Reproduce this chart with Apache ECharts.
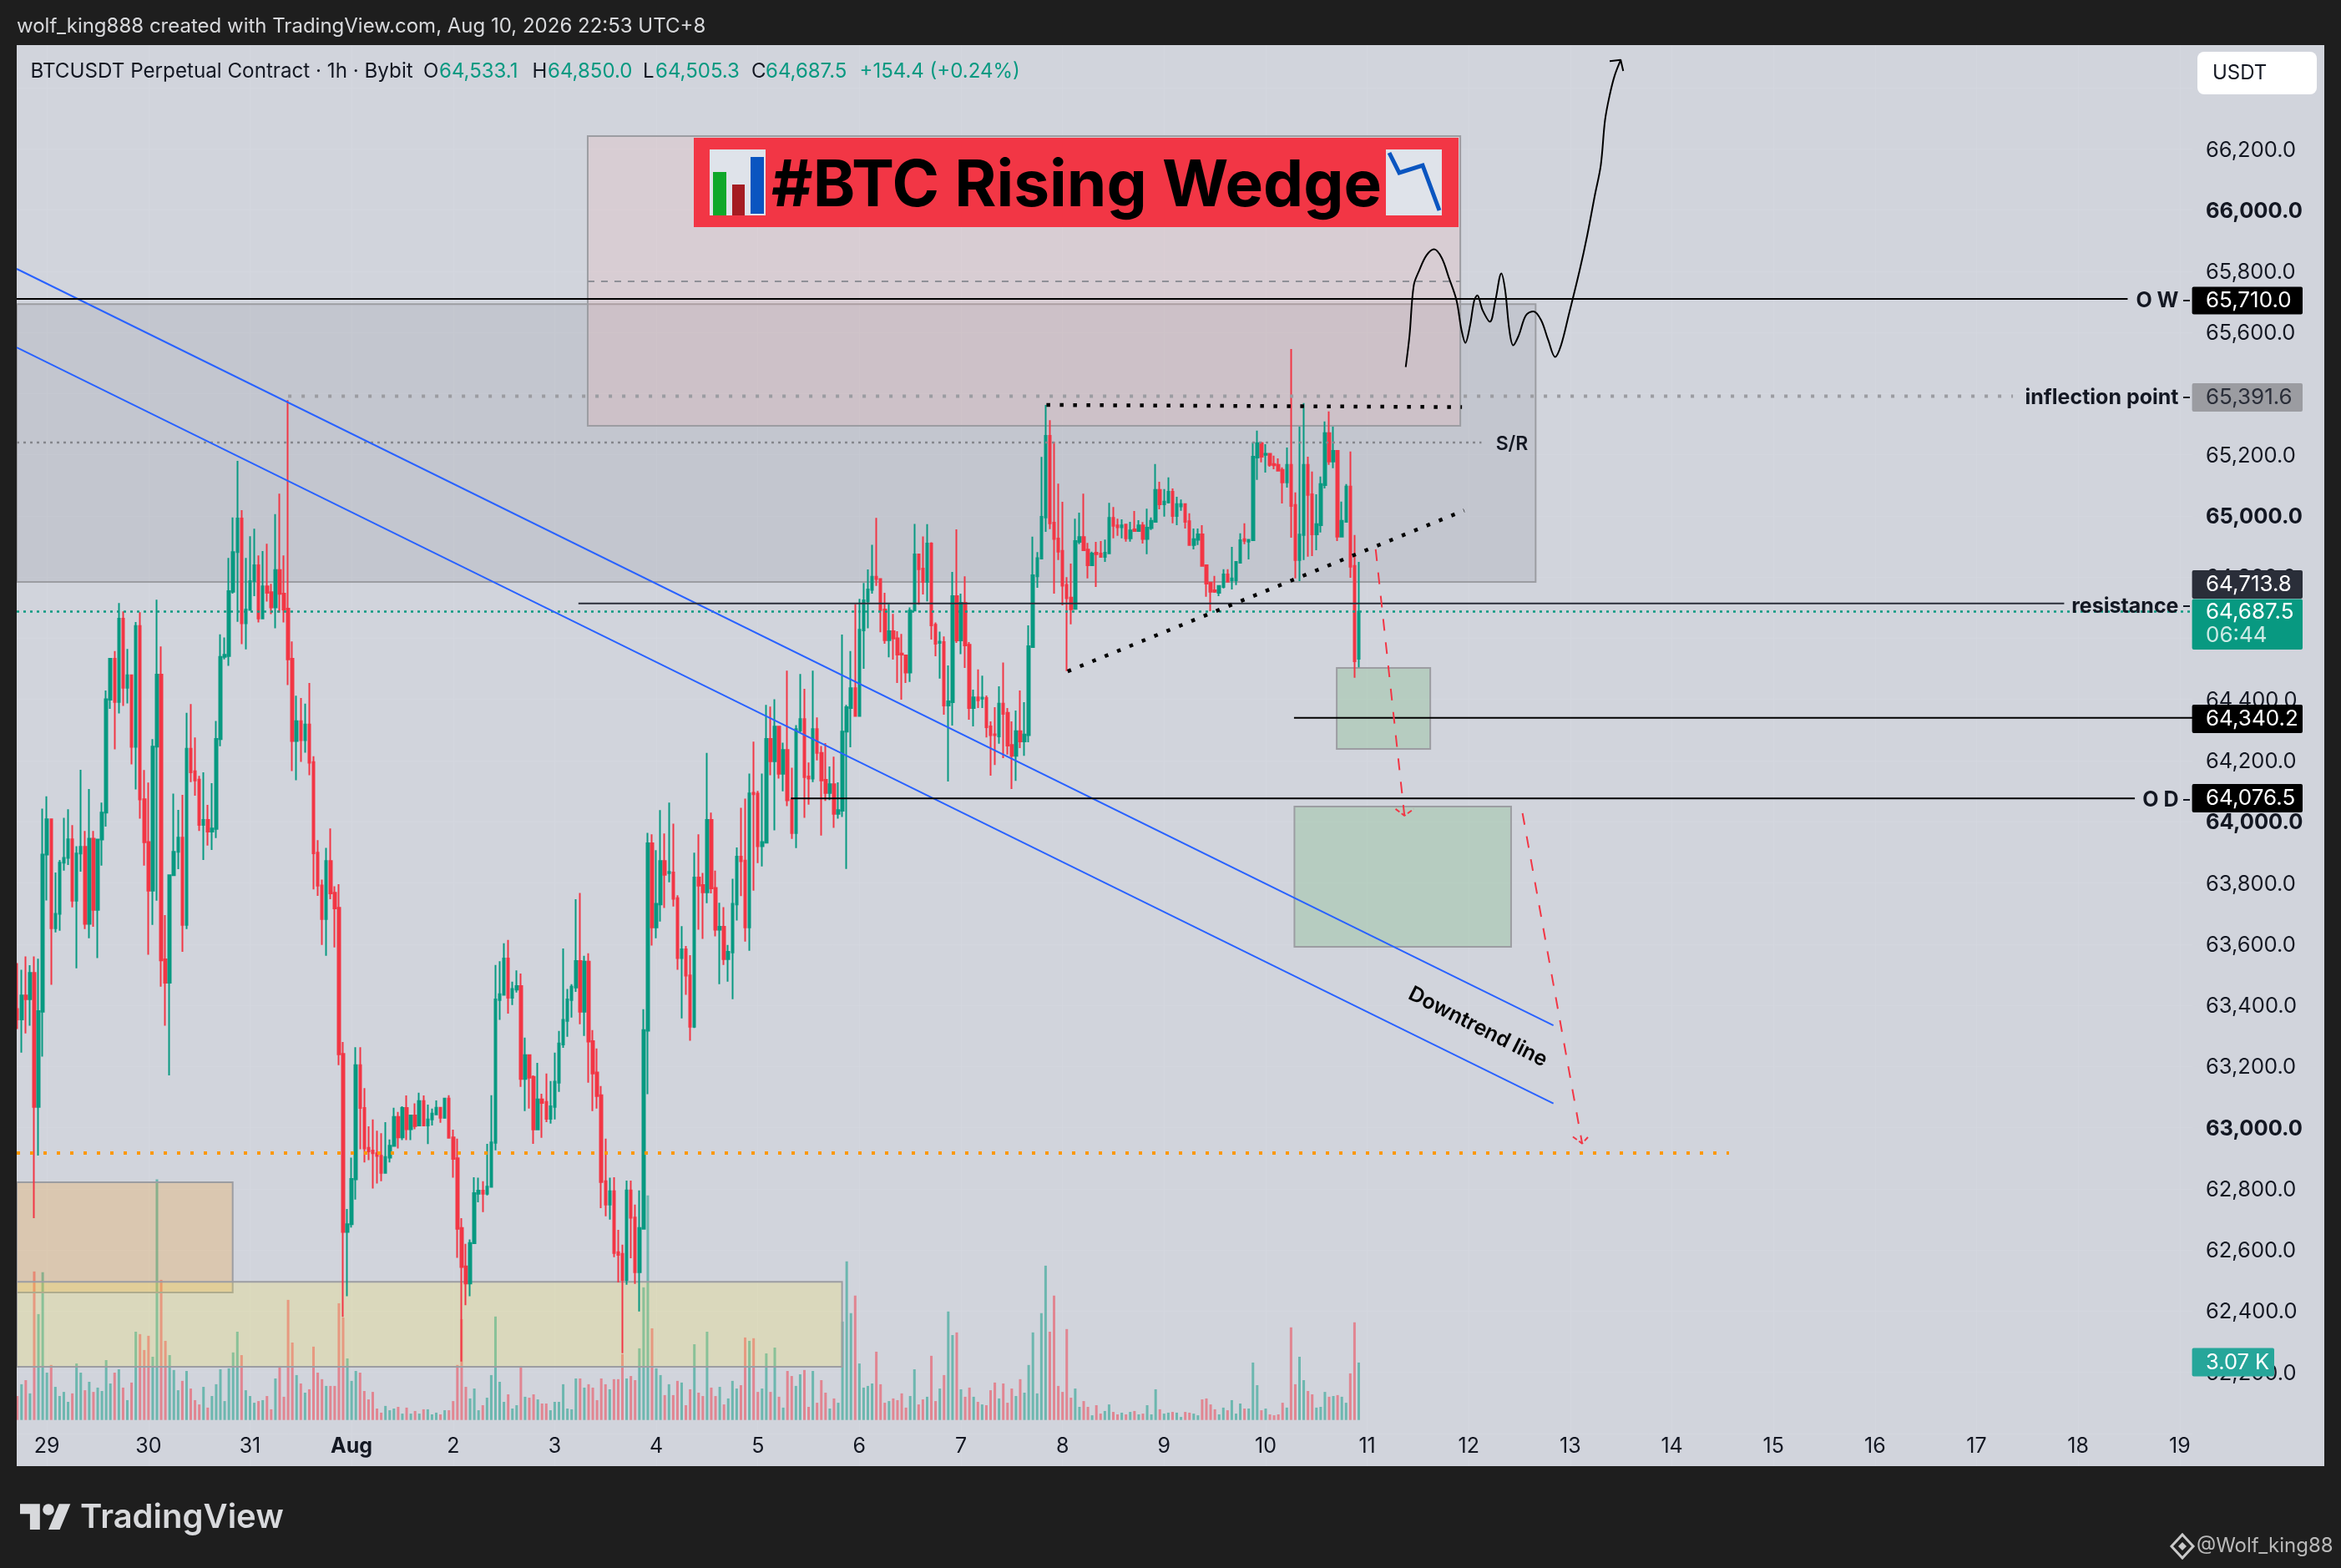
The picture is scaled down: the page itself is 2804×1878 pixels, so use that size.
<!DOCTYPE html>
<html><head><meta charset="utf-8">
<style>html,body{margin:0;padding:0;background:#1e1e1e}#c{width:2804px;height:1878px}</style>
<script src="https://cdn.jsdelivr.net/npm/echarts@6/dist/echarts.min.js"></script>
</head><body><div id="c"></div>
<script>
// Hourly candles; x = bar number, Jul 29 00:00 is bar 7
const opens=[63388,63354,63432,63420,63506,63068,63379,63893,64008,63652,
63699,63866,63882,63943,63742,63896,63918,63666,63945,63712,
63942,64030,64399,64533,64392,64664,64438,64479,64245,64640,
64074,63934,63775,64246,64481,63550,63474,63825,63902,63948,
63663,64239,64165,64138,63990,64006,63968,63977,64270,64539,
64542,64752,64882,64992,64649,64693,64787,64839,64665,64770,
64751,64701,64823,64746,64697,64533,64264,64329,64267,64318,
64195,63899,63792,63682,63872,63768,63719,63241,62659,62684,
62831,63204,63064,62934,62925,62916,62908,62852,62902,62940,
63035,62968,63064,62995,63040,63007,63087,63007,63027,63043,
63065,63032,63095,62968,62900,62672,62546,62490,62622,62784,
62794,62784,62806,62950,63417,63434,63553,63425,63451,63463,
63159,63237,63166,62994,63092,63084,63029,63068,63147,63272,
63349,63417,63458,63545,63379,63543,63283,63180,63106,62825,
62748,62792,62593,62587,62502,62795,62706,62527,62669,63317,
63930,63655,63730,63872,63832,63834,63750,63554,63583,63498,
63330,63818,63793,63769,64006,63784,63647,63657,63551,63573,
63730,63886,63873,63655,64095,64092,63920,63932,64271,64198,
64311,64157,64235,64072,63963,64298,64336,64148,64141,64303,
64225,64137,64094,64123,64026,64036,64295,64372,64437,64346,
64626,64721,64758,64801,64794,64694,64594,64623,64600,64550,
64544,64488,64691,64874,64828,64784,64910,64644,64585,64588,
64380,64391,64738,64593,64716,64579,64372,64407,64403,64405,
64312,64286,64279,64386,64356,64251,64216,64296,64263,64283,
64571,64803,64861,64995,65262,64978,64926,64886,64775,64733,
64696,64915,64931,64890,64839,64880,64877,64866,64878,64994,
64969,64963,64972,64927,64956,64951,64969,64925,64960,64981,
65085,65038,65044,65079,65000,65031,65039,64983,64905,64922,
64940,64839,64782,64757,64749,64768,64809,64790,64790,64847,
64924,64916,64921,65191,65238,65200,65203,65170,65167,65151,
65110,65167,65036,64856,64938,65167,65071,64940,64970,65101,
65271,65178,65213,64932,64981,65096,64837,64533.1];
const closes=[63354,63432,63420,63506,63068,63381,63893,64008,63652,63699,
63866,63882,63943,63742,63896,63918,63666,63945,63712,63942,
64030,64401,64533,64392,64664,64438,64479,64245,64640,64073,
63933,63775,64246,64481,63547,63474,63825,63902,63948,63663,
64239,64162,64135,63990,64006,63968,63978,64271,64539,64546,
64754,64882,64992,64649,64694,64787,64839,64665,64770,64749,
64701,64823,64745,64694,64531,64264,64329,64267,64318,64193,
63897,63791,63682,63872,63766,63717,63240,62659,62684,62832,
63204,63064,62932,62922,62916,62907,62852,62904,62941,63035,
62968,63064,62995,63040,63005,63087,63007,63027,63046,63065,
63032,63095,62967,62898,62669,62544,62490,62623,62786,62794,
62784,62807,62952,63419,63436,63553,63425,63453,63463,63159,
63237,63163,62994,63092,63081,63029,63070,63150,63275,63352,
63419,63461,63545,63379,63543,63281,63177,63103,62822,62748,
62792,62590,62584,62502,62795,62705,62527,62672,63319,63930,
63655,63732,63872,63827,63836,63748,63554,63583,63497,63330,
63818,63791,63769,64006,63782,63647,63657,63551,63575,63732,
63886,63871,63655,64093,64090,63920,63934,64271,64198,64311,
64157,64235,64070,63963,64303,64336,64146,64141,64303,64225,
64135,64094,64123,64026,64038,64295,64375,64437,64346,64628,
64724,64760,64801,64794,64692,64594,64623,64599,64547,64547,
64488,64691,64874,64826,64784,64910,64642,64582,64589,64380,
64394,64738,64593,64716,64577,64372,64407,64397,64406,64309,
64283,64283,64386,64353,64249,64216,64296,64263,64285,64574,
64806,64862,64997,65262,64976,64925,64883,64772,64731,64695,
64918,64931,64888,64839,64877,64875,64866,64880,64994,64968,
64963,64969,64927,64953,64951,64969,64925,64962,64984,65085,
65038,65047,65079,65000,65039,65039,64981,64905,64924,64940,
64837,64779,64752,64752,64771,64809,64785,64796,64850,64921,
64919,64922,65194,65238,65194,65203,65167,65166,65148,65110,
65167,65033,64856,64939,65167,65069,64940,64973,65104,65271,
65178,65213,64932,64984,65096,64834,64525,64687.5];
const highs=[63538,63516,63560,63531,63560,63552,64043,64083,64008,63834,
63875,64013,64041,63989,63920,64170,63970,64107,63970,63945,
64063,64429,64535,64558,64715,64688,64565,64481,64653,64685,
64169,64128,64270,64726,64573,63695,63825,64092,64039,64088,
64356,64385,64276,64150,64162,64055,64126,64330,64613,64603,
64863,64995,65180,65019,64863,64934,64958,64871,64885,64909,
64778,65006,65073,64871,65379,64590,64412,64405,64386,64454,
64214,63940,63811,63915,63978,63789,63796,63280,62734,62902,
63263,63263,63129,63004,63027,62990,62982,63018,62961,63065,
63051,63070,63105,63040,63079,63114,63105,63075,63062,63089,
63068,63095,63106,62993,62964,62704,62620,62634,62838,62836,
62825,62947,63106,63532,63544,63603,63614,63477,63514,63504,
63294,63240,63171,63212,63111,63177,63152,63245,63316,63586,
63453,63469,63747,63767,63562,63570,63319,63259,63136,62964,
62836,62838,62666,62617,62827,62827,62748,62795,63387,63964,
63959,63907,64038,63962,64063,63994,63760,63659,63594,63564,
63899,63959,63833,64225,64030,63840,63735,63721,63597,63814,
63916,64046,64076,64158,64262,64101,64158,64382,64377,64401,
64311,64259,64494,64177,64316,64483,64435,64194,64494,64341,
64248,64257,64181,64213,64129,64612,64382,64558,64712,64729,
64781,64825,64906,64994,64794,64749,64712,64680,64623,64614,
64547,64701,64974,64874,64933,64973,64914,64652,64622,64606,
64511,64817,64956,64746,64803,64588,64432,64498,64478,64413,
64328,64375,64443,64521,64372,64328,64364,64429,64391,64642,
64932,64882,65193,65363,65313,65243,65106,65046,64800,64844,
64991,65011,65073,64912,64883,64915,64918,64923,65043,65029,
64991,64989,64972,64981,65016,64986,64980,65024,64995,65170,
65112,65088,65126,65090,65063,65054,65039,65009,64959,64959,
64970,64839,64785,64804,64771,64826,64826,64899,64850,64943,
64976,64922,65241,65279,65243,65235,65203,65197,65188,65159,
65224,65546,65077,65292,65369,65194,65145,65071,65129,65309,
65342,65292,65213,65047,65104,65211,64938,64850];
const lows=[63322,63245,63308,63333,62704,62909,63232,63743,63467,63638,
63644,63840,63859,63720,63521,63837,63649,63619,63657,63554,
63857,63984,64369,64237,64354,64379,64387,64188,64106,64010,
63857,63565,63663,63742,63461,63333,63171,63825,63845,63575,
63649,64130,64085,63970,63875,63922,63908,63947,64247,64531,
64510,64746,64654,64581,64564,64693,64738,64652,64665,64720,
64679,64633,64684,64652,64447,64166,64136,64196,64226,64152,
63779,63758,63597,63562,63747,63589,63204,62381,62449,62673,
62765,62929,62886,62894,62801,62817,62825,62852,62886,62940,
62932,62959,62959,62959,62995,63007,63007,62946,63007,63043,
63016,63032,62964,62836,62574,62235,62419,62449,62622,62756,
62724,62778,62806,62926,63352,63434,63373,63401,63442,63133,
63054,63062,62947,62994,62967,63018,63013,63027,63117,63261,
63297,63360,63444,63338,63300,63147,63054,63062,62737,62710,
62699,62576,62494,62262,62486,62573,62489,62399,62669,63109,
63595,63619,63674,63718,63802,63723,63516,63357,63434,63284,
63326,63647,63617,63734,63766,63625,63469,63532,63477,63420,
63677,63757,63608,63578,63775,63865,63854,63932,64152,63972,
64141,64100,64051,63944,63914,64292,64013,64056,64130,64201,
63955,64068,64071,63980,64010,64016,63846,64244,64346,64346,
64500,64633,64746,64771,64620,64582,64538,64530,64454,64399,
64454,64457,64691,64710,64743,64721,64596,64541,64468,64350,
64132,64315,64585,64548,64503,64334,64312,64372,64372,64276,
64151,64186,64255,64208,64220,64107,64134,64241,64216,64260,
64571,64765,64858,64948,64957,64746,64856,64708,64493,64646,
64696,64908,64888,64796,64837,64768,64866,64850,64875,64927,
64935,64927,64916,64916,64948,64948,64910,64875,64954,64981,
65022,64998,65041,64976,64970,65017,64959,64905,64891,64905,
64837,64736,64689,64749,64738,64763,64785,64760,64774,64847,
64908,64858,64921,65118,65175,65142,65161,65153,65148,65041,
65093,64929,64796,64787,64856,64867,64869,64888,64946,65090,
65167,65156,64918,64932,64981,64798,64471,64505.3];
const volumesK=[1.28,1.91,2.13,1.42,7.94,5.66,7.90,2.53,2.94,1.77,
1.28,1.50,0.97,1.42,3.02,2.53,1.59,2.04,1.50,1.73,
1.55,3.20,1.95,2.53,2.71,1.73,1.06,2.00,4.72,4.59,
3.74,4.50,3.38,12.87,7.49,4.23,3.47,2.67,1.59,2.09,
2.62,1.68,1.06,0.83,1.77,0.66,1.28,1.91,2.71,1.01,
2.76,3.61,4.72,3.47,1.59,1.28,0.92,1.01,1.06,1.28,
0.57,2.22,2.89,1.24,6.42,4.14,2.40,1.95,1.46,1.64,
3.92,2.53,2.18,1.82,1.82,1.82,6.24,5.48,3.29,2.09,
2.62,2.53,1.55,1.10,1.50,0.61,0.39,0.75,0.52,0.61,
0.70,0.34,0.66,0.34,0.48,0.34,0.57,0.57,0.30,0.39,
0.30,0.52,0.52,1.01,2.94,5.39,1.77,1.15,1.68,0.52,
0.79,1.19,2.40,5.53,2.04,0.97,1.37,0.61,0.79,2.89,
1.24,1.19,1.37,1.10,0.88,0.88,0.52,0.97,0.97,1.91,
0.61,0.57,2.22,2.22,1.73,1.91,1.73,1.06,2.22,1.91,
1.64,2.18,2.18,3.52,2.22,2.35,2.13,3.83,7.09,12.01,
4.90,2.76,2.40,1.33,1.91,1.33,2.09,2.00,0.79,1.64,
4.05,1.46,1.28,4.72,1.73,1.28,1.77,0.83,1.15,2.09,
1.68,1.86,4.41,4.23,4.37,1.50,1.68,3.56,1.50,3.87,
1.24,0.66,2.62,2.35,1.82,2.44,2.67,0.70,2.62,0.92,
2.13,1.46,0.61,1.15,0.92,5.26,8.48,5.71,6.65,3.02,
1.73,1.82,1.95,3.65,1.91,0.92,1.01,1.15,1.06,1.42,
0.66,1.28,2.71,0.83,1.10,1.24,3.43,1.01,1.68,2.40,
5.80,4.54,4.68,1.64,1.24,1.73,1.24,0.97,0.83,0.79,
1.59,2.00,1.15,1.95,0.92,1.68,1.28,2.18,1.46,2.94,
4.68,1.42,5.71,8.25,4.72,6.65,1.82,1.50,4.86,1.19,
1.68,0.70,1.01,0.70,0.25,0.79,0.34,0.48,0.83,0.43,
0.30,0.39,0.30,0.43,0.48,0.30,0.34,0.79,0.30,1.64,
0.57,0.34,0.39,0.43,0.39,0.16,0.43,0.39,0.34,0.25,
1.10,1.15,0.83,0.57,0.30,0.66,0.52,1.06,0.34,0.88,
0.61,0.61,3.07,1.86,0.52,0.61,0.30,0.25,0.30,0.92,
0.66,4.95,1.91,3.38,2.13,1.55,1.37,0.66,0.70,1.50,
1.24,1.28,1.33,1.24,0.92,2.49,5.22,3.07];
const dayLabels=['29','30','31','Aug','2','3','4','5','6','7','8','9','10','11','12','13','14','15','16','17','18','19'];
const firstDayBar=7, barsPerDay=24;

// Drawn zones: [bar from, price a, bar to, price b]
const srZone=[-0.14,65693,358.8,64784];
const supplyZone=[134.8,66242,341,65295];
const smallDemandZone=[311.8,64503,333.9,64238];
const bigDemandZone=[301.8,64050,353,63591];
const tanZone=[-0.14,62821,50.9,62461];
const yellowZone=[-0.14,62496,194.9,62218];

// Drawn lines: [bar, price] pairs
const owLine=[[-0.14,65710],[498.7,65710]];
const resistanceLine=[[132.6,64713.8],[483.7,64713.8]];
const line64340=[[301.7,64340.2],[514,64340.2]];
const odLine=[[182.8,64076.5],[500.4,64076.5]];
const lastPriceLine=[[-0.14,64687.5],[514,64687.5]];
const inflectionLine=[[64,65391.6],[471.6,65391.6]];
const supplyMidLine=[[134.8,65767],[341,65767]];
const srDottedLine=[[-0.14,65240],[346,65240]];
const orangeLine=[[-0.14,62917],[404.5,62917]];
const downtrendUpper=[[-0.14,65808],[363,63334]];
const downtrendLower=[[-0.14,65551],[363,63079]];
const wedgeTop=[[243.2,65363],[341.4,65356]];
const wedgeBottom=[[248.2,64492],[341.9,65018]];
const redArrow1=[[321,64891],[327.8,64020]];
const redHead1=[[325.7,64042],[327.8,64020],[330,64042]];
const redArrow2=[[355.7,64028],[369.8,62948]];
const redHead2=[[367.6,62970],[369.8,62948],[371.5,62974]];
const pathSketch=[[328.1,65487],[329,65590],[330,65754],[331.3,65803],[333,65852],[334.8,65872],[336.6,65844],[338.3,65779],[340.1,65705],[341.3,65607],[342.2,65566],[343.3,65623],[344.3,65705],[345,65721],[346.3,65672],[348,65635],[349.3,65705],[350.7,65793],[351.6,65738],[352.6,65607],[353.5,65558],[354.8,65590],[356.5,65656],[358.3,65669],[360.1,65640],[361.8,65574],[363.4,65520],[364.8,65558],[366.6,65656],[369.2,65803],[371,65918],[372.8,66049],[374.2,66147],[375.2,66294],[376.3,66376],[377.5,66441],[378.9,66491]];
const pathHead=[[376.3,66487],[378.9,66491],[379.5,66455]];

const GREEN='#089981',RED='#f23645',BG='#d1d4dc',FRAME='#1e1e1e',INK='#131722';
const FONT='Inter, "Liberation Sans", sans-serif';

const candleData=opens.map((o,i)=>[i,o,closes[i],lows[i],highs[i]]);
const volData=volumesK.map((v,i)=>({value:[i,v],itemStyle:{color:closes[i]>=opens[i]?'rgba(8,153,129,0.5)':'rgba(242,54,69,0.5)'}}));
const dayTicks=dayLabels.map((_,k)=>firstDayBar+k*barsPerDay);

const zones=[
 {r:srZone,fill:'rgba(120,123,134,0.15)'},
 {r:supplyZone,fill:'rgba(255,171,167,0.17)'},
 {r:smallDemandZone,fill:'rgba(76,175,80,0.2)'},
 {r:bigDemandZone,fill:'rgba(76,175,80,0.2)'},
 {r:tanZone,fill:'rgba(255,152,0,0.2)'},
 {r:yellowZone,fill:'rgba(255,235,59,0.2)'}
];
function lineS(data,color,width,type,extra){
 return Object.assign({type:'line',xAxisIndex:0,yAxisIndex:0,data,showSymbol:false,symbol:'none',silent:true,z:5,animation:false,
  lineStyle:{color,width,type:type||'solid',cap:'butt'}},extra||{});
}
function T(x,y,text,fill,size,weight,align,extra){
 return Object.assign({type:'text',x,y,z:80,silent:true,style:{text,fill,font:(weight||'400')+' '+size+'px '+FONT,textAlign:align||'left',textVerticalAlign:'middle'}},extra||{});
}
function R(x,y,w,h,fill,r,z){return {type:'rect',z:z||70,silent:true,shape:{x,y,width:w,height:h,r:r||0},style:{fill}};}
function tag(y1,y2,fill,text,col){
 return [R(2625.6,y1,132.4,y2-y1,fill,2),T(2642,(y1+y2)/2+0.5,text,col,26)];
}
function dash(y){return {type:'line',z:70,silent:true,shape:{x1:2615,y1:y,x2:2623,y2:y},style:{stroke:'#131722',lineWidth:2}};}
function logoPts(p){return p.map(a=>[24+a[0]*1.7,1794.5+a[1]*1.7]);}

const graphics=[
 R(0,0,2804,54,FRAME,0,60),R(0,1756,2804,122,FRAME,0,60),R(0,0,20,1878,FRAME,0,60),R(2784,0,20,1878,FRAME,0,60),
 T(20,32,'wolf_king888 created with TradingView.com, Aug 10, 2026 22:53 UTC+8','#d8d9dc',24),
 T(36.5,86,'BTCUSDT Perpetual Contract · 1h · Bybit',INK,24.2),
 T(507,86,'O',INK,24),T(526,86,'64,533.1',GREEN,24),
 T(637.5,86,'H',INK,24),T(656,86,'64,850.0',GREEN,24),
 T(770,86,'L',INK,24),T(785,86,'64,505.3',GREEN,24),
 T(900,86,'C',INK,24),T(917,86,'64,687.5',GREEN,24),
 T(1029.5,86,'+154.4 (+0.24%)',GREEN,24),
 // title banner
 R(831,165,916,107,RED,0,40),
 T(924,224,'#BTC Rising Wedge','#000000',76.5,'700'),
 R(850,179,67,79,'#dfe3ea',0,41),
 R(854,206,16,52,'#10a82a',0,42),R(877,221,15,37,'#a51c22',0,42),R(899,188,16,68,'#0a55c0',0,42),
 R(1660,179,67,79,'#dfe3ea',0,41),
 {type:'polyline',z:42,silent:true,shape:{points:[[1664,183],[1676,207],[1704,198],[1724,252]]},style:{stroke:'#0a55c0',lineWidth:5,fill:null}},
 // right side
 R(2632,62,143,51,'#ffffff',8),T(2650,88,'USDT',INK,24),
 T(2609.5,360,'O W',INK,25,'700','right'),dash(360),
 T(2609.5,476,'inflection point',INK,25,'700','right'),dash(476),
 T(2609.5,726,'resistance',INK,25,'700','right'),dash(726),
 T(2609.5,958,'O D',INK,25,'700','right'),dash(958),
 ...tag(343.5,376.5,'#000000','65,710.0','#ffffff'),
 ...tag(459,493,'#9b9ca1','65,391.6','#2a2e39'),
 ...tag(683,717,'#2a2e39','64,713.8','#ffffff'),
 R(2625.6,717.5,132.4,60.5,GREEN,2),T(2642,733,'64,687.5','#ffffff',26),T(2642,761,'06:44','#cdeae5',26),
 ...tag(844,878,'#000000','64,340.2','#ffffff'),
 ...tag(939,973,'#000000','64,076.5','#ffffff'),
 R(2625.6,1614.6,98.4,34,'#26a69a',2),T(2642,1632,'3.07 K','#ffffff',25.5),
 // text drawn on chart
 T(1811,532,'S/R',INK,23,'600','center'),
 T(1770,1230,'Downtrend line','#000000',25,'600','center',{rotation:-0.467}),
 // footer
 {type:'polygon',z:80,silent:true,shape:{points:logoPts([[0,4],[14,4],[14,22],[7,22],[7,11],[0,11]])},style:{fill:'#d8d9dc'}},
 {type:'polygon',z:80,silent:true,shape:{points:logoPts([[20,22],[28,22],[35.5,4],[27.5,4]])},style:{fill:'#d8d9dc'}},
 {type:'circle',z:80,silent:true,shape:{cx:58,cy:1808,r:6.8},style:{fill:'#d8d9dc'}},
 T(96,1818,'TradingView','#d8d9dc',40,'600'),
 {type:'polygon',z:80,silent:true,shape:{points:[[2614,1838],[2627,1852],[2614,1866],[2601,1852]]},style:{fill:'none',stroke:'#c9c9c9',lineWidth:3}},
 {type:'polygon',z:80,silent:true,shape:{points:[[2614,1847],[2619,1852],[2614,1857],[2609,1852]]},style:{fill:'#c9c9c9'}},
 T(2631,1852,'@Wolf_king88','#b9b9b9',24)
];

const chart=echarts.init(document.getElementById('c'),null,{renderer:'canvas',width:2804,height:1878});
chart.setOption({
 animation:false,
 backgroundColor:BG,
 grid:[
  {left:20,right:178,top:31.9,bottom:87.9},
  {left:20,right:178,top:1409.5,bottom:177.3}
 ],
 xAxis:[
  {type:'value',gridIndex:0,min:-0.14,max:514,axisLine:{show:false},axisLabel:{show:false},
   axisTick:{show:false,customValues:dayTicks},splitLine:{show:true,lineStyle:{color:'#d4d7df',width:1}}},
  {type:'value',gridIndex:1,min:-0.14,max:514,axisLine:{show:false},axisTick:{show:false},splitLine:{show:false},
   axisLabel:{show:true,customValues:dayTicks,margin:19,hideOverlap:false,
    formatter:v=>{const s=dayLabels[(v-firstDayBar)/barsPerDay];return s==='Aug'?'{b|Aug}':'{n|'+s+'}';},
    rich:{n:{fontFamily:FONT,fontSize:25,color:INK},b:{fontFamily:FONT,fontSize:25,fontWeight:700,color:INK}}}}
 ],
 yAxis:[
  {type:'value',gridIndex:0,position:'right',min:61800,max:66600,interval:200,axisLine:{show:false},axisTick:{show:false},
   splitLine:{show:true,lineStyle:{color:'#d4d7df',width:1}},
   axisLabel:{show:true,margin:16,align:'left',showMinLabel:true,showMaxLabel:true,
    formatter:v=>{if(v<62200||v>66200)return '';const s=v.toLocaleString('en-US',{minimumFractionDigits:1});return v%1000===0?'{b|'+s+'}':'{n|'+s+'}';},
    rich:{n:{fontFamily:FONT,fontSize:25.5,color:INK,padding:[3,0,0,0]},b:{fontFamily:FONT,fontSize:25.5,fontWeight:700,color:INK,padding:[3,0,0,0]}}}},
  {type:'value',gridIndex:1,min:0,max:13,show:false,splitLine:{show:false}}
 ],
 series:[
  {type:'bar',name:'Volume',xAxisIndex:1,yAxisIndex:1,data:volData,barWidth:3,z:1,silent:true,animation:false},
  {type:'custom',name:'Zones',xAxisIndex:0,yAxisIndex:0,z:2,silent:true,animation:false,
   data:zones.map((z,i)=>[z.r[0],z.r[1],z.r[2],z.r[3],i]),
   encode:{x:[0,2],y:[1,3]},
   renderItem:(p,api)=>{
    const a=api.coord([api.value(0),api.value(1)]),b=api.coord([api.value(2),api.value(3)]);
    return {type:'rect',shape:{x:a[0],y:a[1],width:b[0]-a[0],height:b[1]-a[1]},style:{fill:zones[api.value(4)].fill,stroke:'#9c9da2',lineWidth:2}};
   }},
  {type:'candlestick',name:'BTCUSDT',xAxisIndex:0,yAxisIndex:0,data:candleData,barWidth:3,z:3,silent:true,animation:false,clip:true,
   itemStyle:{color:GREEN,color0:RED,borderColor:GREEN,borderColor0:RED,borderWidth:2}},
  lineS(supplyMidLine,'#8f9097',2,[8,8]),
  lineS(srDottedLine,'#85868c',2.5,[3,5]),
  lineS(inflectionLine,'#9b9ca1',4,[4,12]),
  lineS(lastPriceLine,GREEN,2.5,[3,5]),
  lineS(orangeLine,'#ff9800',4,[4,12]),
  lineS(downtrendUpper,'#2962ff',2),
  lineS(downtrendLower,'#2962ff',2),
  lineS(owLine,'#000000',2),
  lineS(resistanceLine,'#2a2e39',2),
  lineS(line64340,'#000000',2),
  lineS(odLine,'#000000',2),
  lineS(wedgeTop,'#000000',4.5,[4.5,11.5]),
  lineS(wedgeBottom,'#000000',4.5,[4.5,11.5]),
  lineS(redArrow1,RED,2,[14,14]),
  lineS(redHead1,RED,2,[6,3]),
  lineS(redArrow2,RED,2,[14,14]),
  lineS(redHead2,RED,2,[6,3]),
  lineS(pathSketch,'#000000',2,'solid',{smooth:0.35}),
  lineS(pathHead,'#000000',2)
 ],
 graphic:{elements:graphics}
});
</script></body></html>
